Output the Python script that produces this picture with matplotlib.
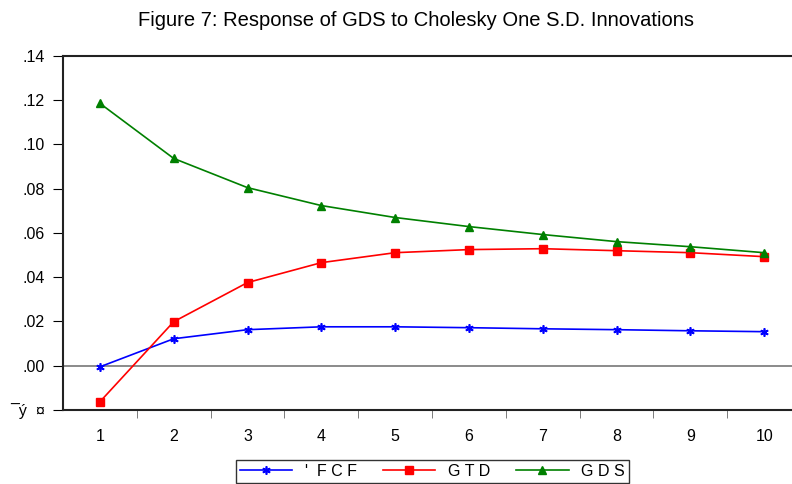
import numpy as np
import matplotlib
matplotlib.use('Agg')
import matplotlib.pyplot as plt

plt.rcParams['font.family'] = ['Liberation Sans', 'DejaVu Sans']

# Data
periods = [1, 2, 3, 4, 5, 6, 7, 8, 9, 10]
fcf = [-0.0005, 0.0122, 0.0163, 0.0176, 0.0176, 0.0172, 0.0167, 0.0163, 0.0158, 0.0154]
gtd = [-0.0163, 0.0199, 0.0376, 0.0466, 0.0511, 0.0525, 0.0529, 0.0520, 0.0511, 0.0493]
gds = [0.1186, 0.0937, 0.0805, 0.0724, 0.0670, 0.0629, 0.0593, 0.0561, 0.0538, 0.0511]
ytick_vals = [-0.02, 0.00, 0.02, 0.04, 0.06, 0.08, 0.10, 0.12, 0.14]
ytick_labels = ['\u00afý  ¤', '.00', '.02', '.04', '.06', '.08', '.10', '.12', '.14']
series_names = ["'  F C F", 'G T D', 'G D S']

fig = plt.figure(figsize=(7.92, 4.84), dpi=100)
ax = fig.add_axes([0.0795, 0.1529, 0.932, 0.7314])

ax.axhline(0, color='#777777', lw=1.2, zorder=1)
l1, = ax.plot(periods, fcf, color='blue', lw=1.2, marker=(6, 2, 0), ms=6, mew=1.2, zorder=3)
l2, = ax.plot(periods, gtd, color='red', lw=1.2, marker='s', ms=6, zorder=3)
l3, = ax.plot(periods, gds, color='green', lw=1.2, marker='^', ms=6, zorder=3)

ax.set_xlim(0.5, 10.5)
ax.set_ylim(-0.02, 0.14)
ax.set_yticks(ytick_vals)
ax.set_yticklabels(ytick_labels)
ax.set_xticks(periods)
ax.set_xticklabels([str(p) for p in periods])
ax.set_xticks(np.arange(1.5, 10.5, 1), minor=True)
ax.tick_params(axis='x', which='major', length=0, pad=14, labelsize=11.5)
ax.tick_params(axis='x', which='minor', length=6, direction='out', color='#666666')
ax.tick_params(axis='y', length=7, direction='out', labelsize=11.5, pad=6)
for s in ax.spines.values():
    s.set_linewidth(1.5)
    s.set_color('#222222')

fig.text(0.525, 0.958, 'Figure 7: Response of GDS to Cholesky One S.D. Innovations',
         ha='center', va='center', fontsize=14.5)

leg = fig.legend([l1, l2, l3], series_names, loc='upper center',
                 bbox_to_anchor=(0.546, 0.067), ncol=3, frameon=True,
                 fancybox=False, edgecolor='black', fontsize=11.5,
                 handlelength=3.3, handletextpad=0.8, columnspacing=1.6,
                 borderpad=0.25)
leg.get_frame().set_linewidth(1.0)

plt.savefig('out.png', dpi=100)
